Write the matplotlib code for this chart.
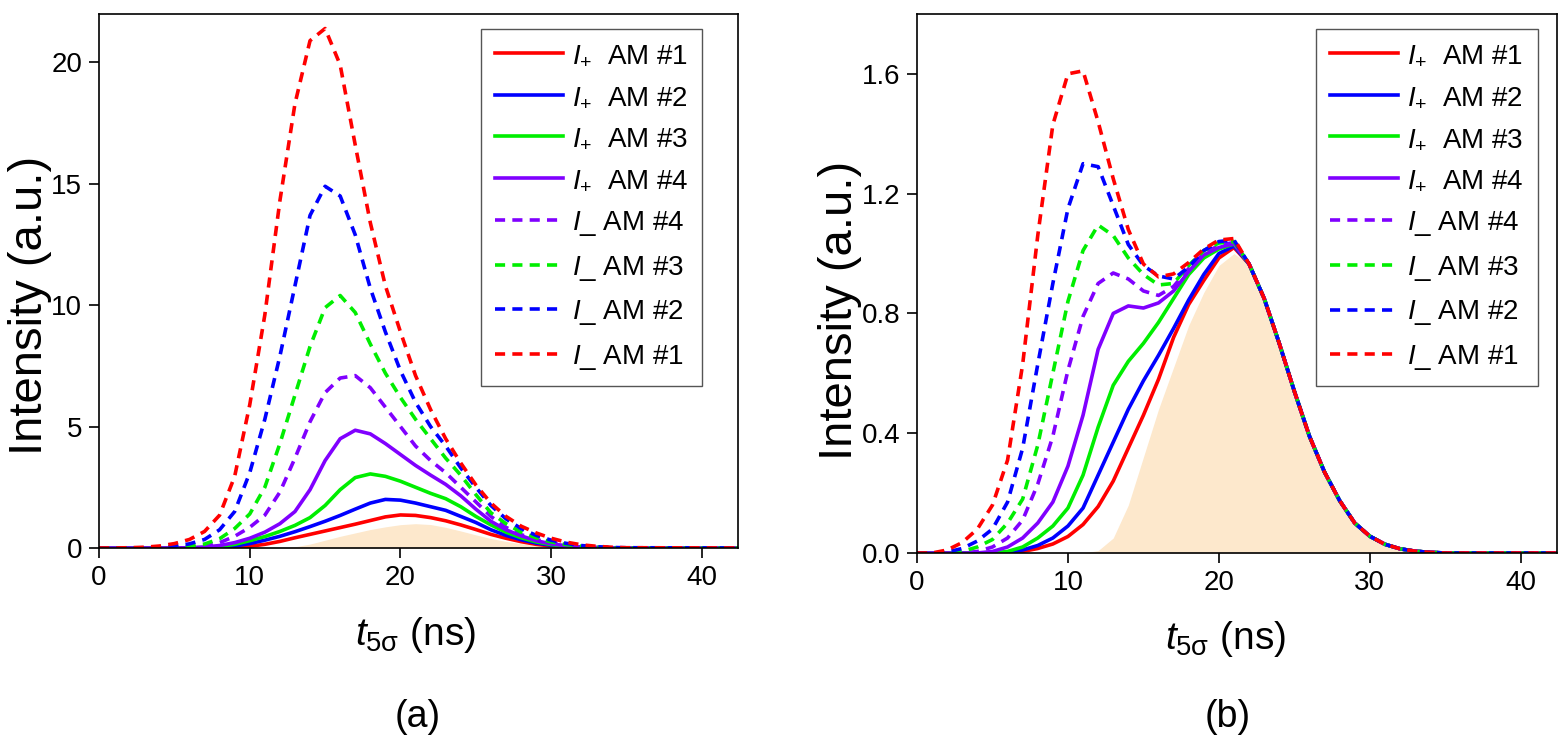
import numpy as np
import matplotlib
matplotlib.use("Agg")
import matplotlib.pyplot as plt
from matplotlib.ticker import FormatStrFormatter

plt.rcParams["font.family"] = ["Liberation Sans", "DejaVu Sans"]
plt.rcParams["mathtext.fontset"] = "custom"
plt.rcParams["mathtext.rm"] = "Liberation Sans"
plt.rcParams["mathtext.it"] = "Liberation Sans:italic"

# time axis (ns): 0..35 in 1 ns steps, then the right edge
t_ns = list(range(36)) + [42.5]

# input pulse (filled area), same in both panels
pulse = [0, 0, 0, 0, 0, 0, 0, 0, 0, 0, 0, 0, 0.008, 0.05, 0.16, 0.32, 0.48, 0.62,
         0.76, 0.87, 0.96, 1.0, 0.965, 0.85, 0.7, 0.54, 0.39, 0.27, 0.175, 0.1,
         0.056, 0.029, 0.014, 0.006, 0.002, 0, 0]

# ---- panel (a)
a_plus_am1 = [0, 0, 0, 0, 0, 0, 0, 0, 0.01, 0.03, 0.07, 0.15, 0.27, 0.42, 0.56, 0.7,
              0.84, 0.98, 1.13, 1.28, 1.36, 1.34, 1.25, 1.12, 0.95, 0.76, 0.56, 0.4,
              0.26, 0.15, 0.08, 0.04, 0.02, 0.01, 0, 0, 0]
a_plus_am2 = [0, 0, 0, 0, 0, 0, 0, 0.01, 0.03, 0.08, 0.18, 0.32, 0.48, 0.67, 0.88, 1.1,
              1.34, 1.6, 1.85, 2.0, 1.97, 1.85, 1.7, 1.55, 1.3, 1.05, 0.75, 0.52,
              0.34, 0.2, 0.11, 0.05, 0.02, 0.01, 0, 0, 0]
a_plus_am3 = [0, 0, 0, 0, 0, 0, 0, 0.02, 0.06, 0.15, 0.3, 0.47, 0.68, 0.93, 1.25, 1.75,
              2.4, 2.9, 3.05, 2.95, 2.75, 2.5, 2.25, 2.03, 1.7, 1.3, 0.95, 0.65,
              0.42, 0.25, 0.14, 0.07, 0.03, 0.01, 0, 0, 0]
a_plus_am4 = [0, 0, 0, 0, 0, 0, 0.01, 0.04, 0.1, 0.22, 0.4, 0.65, 1.0, 1.5, 2.4, 3.6,
              4.5, 4.85, 4.7, 4.3, 3.85, 3.4, 3.0, 2.62, 2.15, 1.6, 1.1, 0.75,
              0.5, 0.3, 0.17, 0.09, 0.04, 0.02, 0.01, 0, 0]
a_minus_am4 = [0, 0, 0, 0, 0, 0.01, 0.03, 0.08, 0.22, 0.48, 0.85, 1.35, 2.3, 3.7, 5.2, 6.4,
               7.0, 7.1, 6.6, 5.8, 5.0, 4.2, 3.6, 3.1, 2.5, 1.9, 1.3, 0.85,
               0.55, 0.35, 0.2, 0.11, 0.05, 0.02, 0.01, 0, 0]
a_minus_am3 = [0, 0, 0, 0, 0.01, 0.03, 0.07, 0.16, 0.38, 0.8, 1.4, 2.5, 4.3, 6.3, 8.3, 9.9,
               10.4, 9.7, 8.4, 7.2, 6.2, 5.3, 4.5, 3.7, 3.0, 2.2, 1.45, 1.0,
               0.65, 0.42, 0.25, 0.14, 0.07, 0.03, 0.01, 0, 0]
a_minus_am2 = [0, 0, 0, 0.01, 0.03, 0.07, 0.17, 0.35, 0.75, 1.5, 3.1, 5.3, 7.9, 10.8, 13.7, 14.9,
               14.5, 12.9, 10.7, 8.9, 7.3, 6.0, 5.0, 4.2, 3.3, 2.5, 1.75, 1.2,
               0.8, 0.52, 0.32, 0.19, 0.1, 0.05, 0.02, 0.01, 0]
a_minus_am1 = [0, 0, 0.01, 0.03, 0.08, 0.18, 0.35, 0.68, 1.35, 2.95, 5.9, 9.6, 14.3, 18.3, 20.9, 21.4,
               19.9, 16.6, 13.4, 10.8, 8.9, 7.1, 5.7, 4.5, 3.5, 2.6, 1.85, 1.3,
               0.9, 0.62, 0.4, 0.24, 0.13, 0.07, 0.03, 0.01, 0]

# ---- panel (b): rising part 0..21 ns, then the shared falling edge
b_tail = [0.965, 0.85, 0.7, 0.54, 0.39, 0.27, 0.175, 0.1, 0.056, 0.029, 0.014,
          0.006, 0.002, 0, 0]
b_plus_am1 = [0, 0, 0, 0, 0, 0, 0, 0.005, 0.015, 0.03, 0.055, 0.095, 0.155, 0.24,
              0.35, 0.46, 0.58, 0.72, 0.83, 0.91, 0.985, 1.02]
b_plus_am2 = [0, 0, 0, 0, 0, 0, 0.003, 0.01, 0.025, 0.05, 0.09, 0.15, 0.26, 0.37,
              0.48, 0.575, 0.66, 0.75, 0.845, 0.93, 1.0, 1.025]
b_plus_am3 = [0, 0, 0, 0, 0, 0, 0.005, 0.02, 0.05, 0.09, 0.15, 0.26, 0.42, 0.56,
              0.64, 0.7, 0.77, 0.85, 0.93, 0.985, 1.015, 1.032]
b_plus_am4 = [0, 0, 0, 0, 0, 0.005, 0.02, 0.05, 0.1, 0.17, 0.29, 0.46, 0.68, 0.8,
              0.825, 0.818, 0.835, 0.875, 0.94, 0.995, 1.02, 1.033]
b_minus_am4 = [0, 0, 0, 0, 0.005, 0.02, 0.05, 0.11, 0.23, 0.39, 0.61, 0.79, 0.9, 0.935,
               0.915, 0.875, 0.86, 0.89, 0.95, 1.0, 1.027, 1.037]
b_minus_am3 = [0, 0, 0, 0.005, 0.02, 0.045, 0.1, 0.18, 0.36, 0.6, 0.84, 1.01, 1.095, 1.06,
               0.985, 0.93, 0.895, 0.9, 0.96, 1.01, 1.035, 1.04]
b_minus_am2 = [0, 0, 0.003, 0.015, 0.04, 0.08, 0.17, 0.35, 0.63, 0.9, 1.15, 1.3, 1.29, 1.16,
               1.03, 0.96, 0.925, 0.915, 0.955, 1.01, 1.04, 1.045]
b_minus_am1 = [0, 0, 0.01, 0.035, 0.08, 0.16, 0.31, 0.63, 1.06, 1.43, 1.6, 1.61, 1.44, 1.25,
               1.08, 0.965, 0.922, 0.932, 0.97, 1.015, 1.045, 1.05]

labels = [r"$I_{+}$  AM #1", r"$I_{+}$  AM #2", r"$I_{+}$  AM #3", r"$I_{+}$  AM #4",
          r"$I$_ AM #4", r"$I$_ AM #3", r"$I$_ AM #2", r"$I$_ AM #1"]
colors = ["#ff0000", "#0000ff", "#00ee00", "#8000ff",
          "#8000ff", "#00ee00", "#0000ff", "#ff0000"]
styles = ["-", "-", "-", "-", "--", "--", "--", "--"]

series_a = [a_plus_am1, a_plus_am2, a_plus_am3, a_plus_am4,
            a_minus_am4, a_minus_am3, a_minus_am2, a_minus_am1]
series_b = [h + b_tail for h in [b_plus_am1, b_plus_am2, b_plus_am3, b_plus_am4,
                                 b_minus_am4, b_minus_am3, b_minus_am2, b_minus_am1]]

fill_color = "#fde8cc"


def draw_panel(ax, series, legend_anchor):
    ax.fill_between(t_ns, pulse, 0, color=fill_color, lw=0, zorder=1)
    for y, lab, c, ls in zip(series, labels, colors, styles):
        line, = ax.plot(t_ns, y, ls, color=c, lw=2.6, label=lab, zorder=2,
                        solid_joinstyle="round", dash_joinstyle="round")
        if ls == "--":
            line.set_dashes((2.8, 2.0))
    ax.set_xlim(0, 42.4)
    ax.set_xticks([0, 10, 20, 30, 40])
    ax.tick_params(direction="out", length=7, width=1.2, labelsize=20, pad=5,
                   top=False, right=False)
    for sp in ax.spines.values():
        sp.set_linewidth(1.2)
    leg = ax.legend(loc="upper right", bbox_to_anchor=legend_anchor, fontsize=20,
                    handlelength=2.45, handletextpad=0.32, labelspacing=0.56,
                    borderpad=0.5, borderaxespad=0, fancybox=False,
                    edgecolor="#555555", framealpha=1)
    leg.get_frame().set_linewidth(1.0)


fig = plt.figure(figsize=(15.67, 7.38), dpi=100)
ax_a = fig.add_axes([0.0632, 0.2575, 0.4078, 0.7236])
ax_b = fig.add_axes([0.5852, 0.2507, 0.4084, 0.7304])

draw_panel(ax_a, series_a, (0.944, 0.972))
ax_a.set_ylim(0, 22)
ax_a.set_yticks([0, 5, 10, 15, 20])

draw_panel(ax_b, series_b, (0.97, 0.972))
ax_b.set_ylim(0, 1.8)
ax_b.set_yticks([0, 0.4, 0.8, 1.2, 1.6])
ax_b.yaxis.set_major_formatter(FormatStrFormatter("%.1f"))

W, H = 1567, 738
fig.text(30 / W, 1 - 305 / H, "Intensity (a.u.)", rotation=90, ha="center",
         va="center", fontsize=34)
fig.text(840 / W, 1 - 310 / H, "Intensity (a.u.)", rotation=90, ha="center",
         va="center", fontsize=34)
fig.text(416 / W, 1 - 645 / H, r"$t_{\mathrm{5\sigma}}$ (ns)", ha="center",
         va="baseline", fontsize=28)
fig.text(1226 / W, 1 - 649 / H, r"$t_{\mathrm{5\sigma}}$ (ns)", ha="center",
         va="baseline", fontsize=28)
fig.text(418 / W, 1 - 727 / H, "(a)", ha="center", va="baseline", fontsize=27)
fig.text(1228 / W, 1 - 727 / H, "(b)", ha="center", va="baseline", fontsize=27)

fig.savefig("out.png", dpi=100)
